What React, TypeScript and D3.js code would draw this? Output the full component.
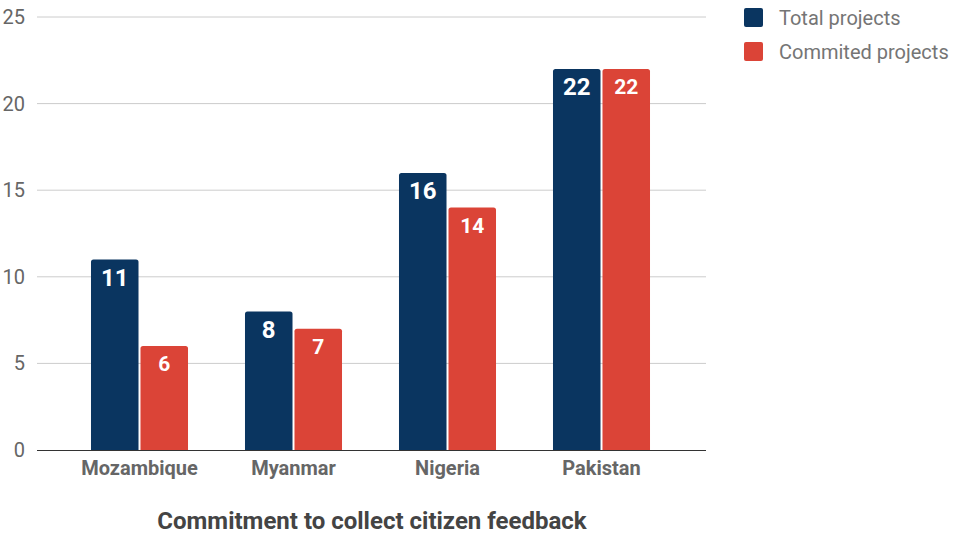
import React from "react";
import * as d3 from "d3";

const categories = ["Mozambique", "Myanmar", "Nigeria", "Pakistan"];
const seriesNames = ["Total projects", "Commited projects"];
const totalProjects = [11, 8, 16, 22];
const committedProjects = [6, 7, 14, 22];
const yTicks = [0, 5, 10, 15, 20, 25];
const colors = ["#0a3560", "#db4437"];
const title = "Commitment to collect citizen feedback";

export default function App() {
  const W = 953, H = 534;
  const y = d3.scaleLinear().domain([0, 25]).range([450, 17]);
  const x = d3.scaleBand().domain(categories).range([62.5, 678.5]).paddingInner(0.37).paddingOuter(0.185);
  const xs = d3.scaleBand().domain(seriesNames).range([0, x.bandwidth()]).paddingInner(0.04);
  const series = [totalProjects, committedProjects];
  const font = "Roboto, sans-serif";

  const barPath = (x0: number, y0: number, w: number, h: number, r: number) =>
    `M${x0},${y0 + h}V${y0 + r}Q${x0},${y0} ${x0 + r},${y0}H${x0 + w - r}Q${x0 + w},${y0} ${x0 + w},${y0 + r}V${y0 + h}Z`;

  return (
    <svg width={W} height={H} style={{ position: "absolute", left: 0, top: 0 }} fontFamily={font}>
      <rect width={W} height={H} fill="#fff" />
      {yTicks.map((t) => (
        <g key={t}>
          {t !== 0 && <line x1={37} x2={706} y1={y(t)} y2={y(t)} stroke="#cccccc" strokeWidth={1} />}
          <text x={25} y={y(t)} dy="0.35em" textAnchor="end" fontSize={20} fill="#666">{t}</text>
        </g>
      ))}
      {categories.map((c, i) => (
        <g key={c}>
          {series.map((s, j) => {
            const bx = (x(c) as number) + (xs(seriesNames[j]) as number);
            const bw = xs.bandwidth();
            const by = y(s[i]);
            return (
              <g key={j}>
                <path d={barPath(bx, by, bw, 450 - by, 2.5)} fill={colors[j]} />
                <text x={bx + bw / 2} y={by + 18} dy="0.35em" textAnchor="middle" fontSize={j === 0 ? 24 : 21} fontWeight="bold" fill="#fff">{s[i]}</text>
              </g>
            );
          })}
          <text x={(x(c) as number) + x.bandwidth() / 2} y={468} dy="0.35em" textAnchor="middle" fontSize={20} fontWeight="bold" fill="#666">{c}</text>
        </g>
      ))}
      <line x1={37} x2={706} y1={450.5} y2={450.5} stroke="#333" strokeWidth={1} />
      {seriesNames.map((n, j) => (
        <g key={n}>
          <rect x={744} y={8 + j * 34} width={19} height={19} rx={2} fill={colors[j]} />
          <text x={779} y={17.5 + j * 34} dy="0.35em" fontSize={20} fill="#757575">{n}</text>
        </g>
      ))}
      <text x={372} y={521} dy="0.35em" textAnchor="middle" fontSize={24} fontWeight="bold" fill="#444">{title}</text>
    </svg>
  );
}
